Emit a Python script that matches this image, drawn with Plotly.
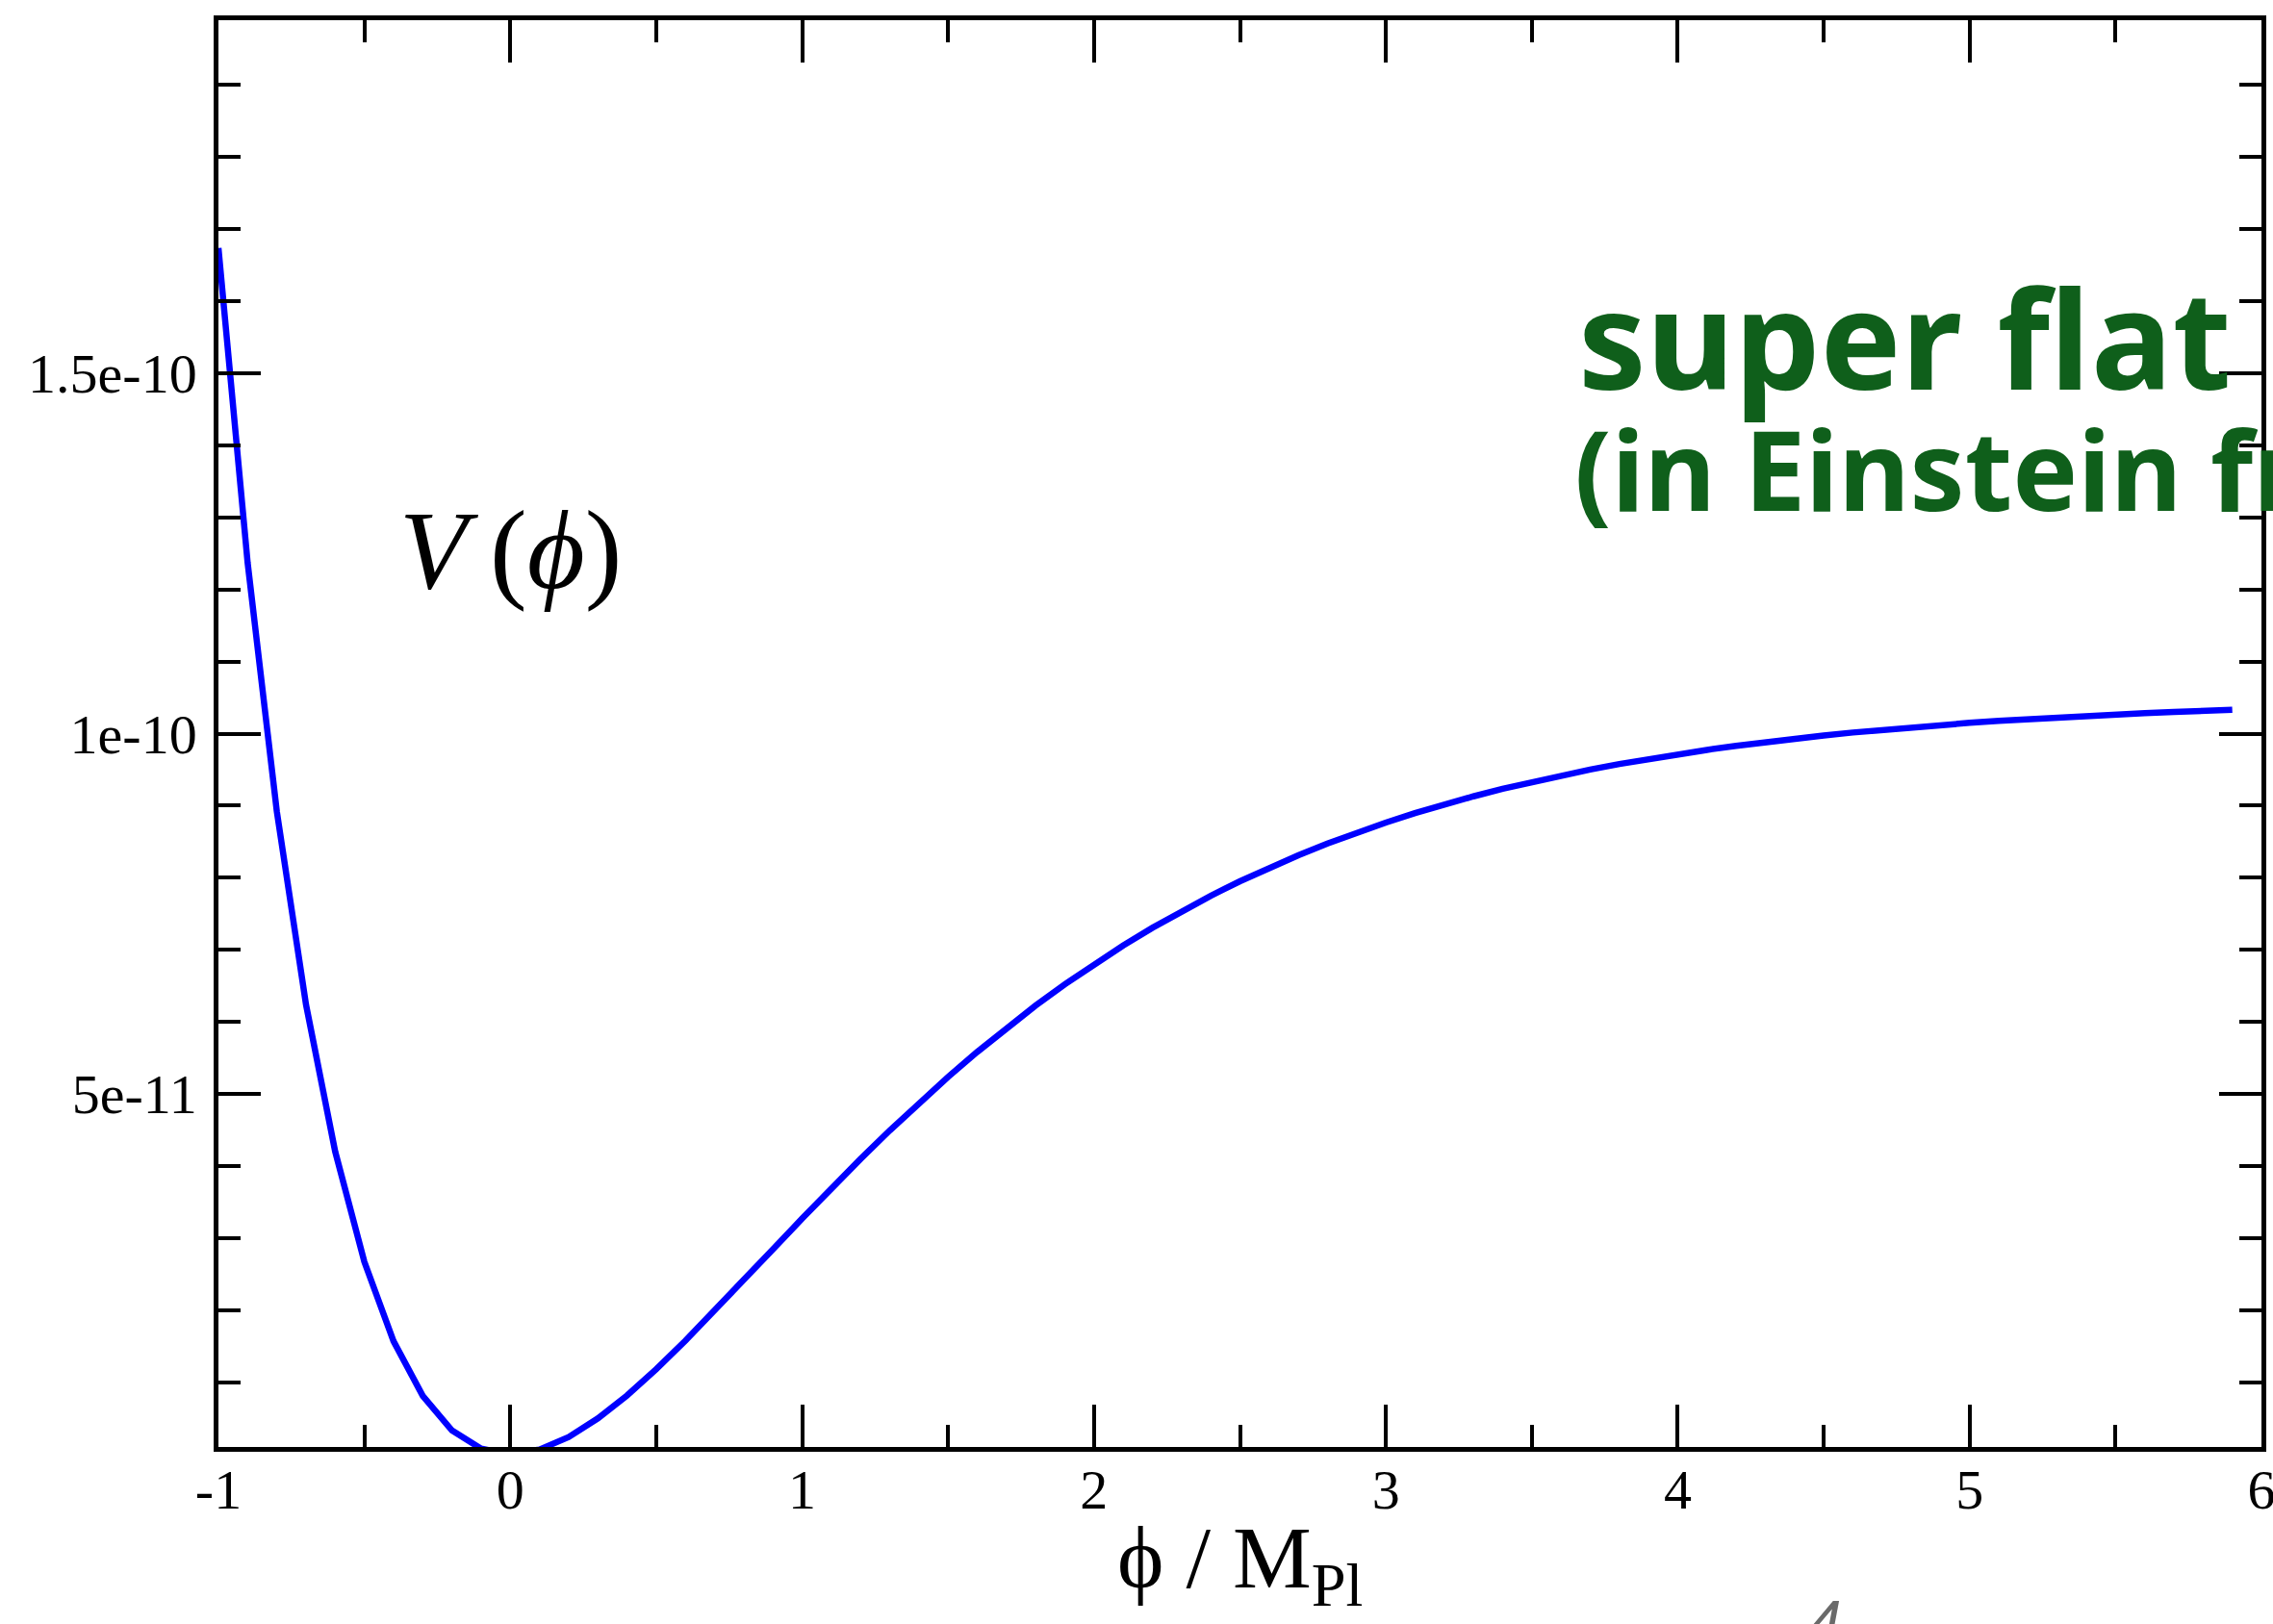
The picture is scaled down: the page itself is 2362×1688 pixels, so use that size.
import plotly.graph_objects as go

# Scalar field values (in units of M_Pl), sampled every 0.1
phi = [-1.0, -0.9, -0.8, -0.7, -0.6, -0.5, -0.4, -0.3, -0.2, -0.1,
       0.0, 0.1, 0.2, 0.3, 0.4, 0.5, 0.6, 0.7, 0.8, 0.9,
       1.0, 1.1, 1.2, 1.3, 1.4, 1.5, 1.6, 1.7, 1.8, 1.9,
       2.0, 2.1, 2.2, 2.3, 2.4, 2.5, 2.6, 2.7, 2.8, 2.9,
       3.0, 3.1, 3.2, 3.3, 3.4, 3.5, 3.6, 3.7, 3.8, 3.9,
       4.0, 4.1, 4.2, 4.3, 4.4, 4.5, 4.6, 4.7, 4.8, 4.9,
       5.0, 5.1, 5.2, 5.3, 5.4, 5.5, 5.6, 5.7, 5.8, 5.9]

# Potential V(phi), in units of 1e-11
V_e11 = [16.74, 12.37, 8.92, 6.24, 4.20, 2.67, 1.567, 0.809, 0.330, 0.076,
         0.0, 0.065, 0.238, 0.496, 0.815, 1.180, 1.575, 1.990, 2.415, 2.844,
         3.270, 3.689, 4.097, 4.492, 4.872, 5.236, 5.583, 5.913, 6.226, 6.521,
         6.799, 7.060, 7.305, 7.535, 7.749, 7.950, 8.137, 8.311, 8.474, 8.625,
         8.765, 8.896, 9.017, 9.129, 9.233, 9.329, 9.419, 9.501, 9.578, 9.648,
         9.714, 9.774, 9.830, 9.882, 9.930, 9.974, 10.015, 10.052, 10.087, 10.119,
         10.149, 10.176, 10.201, 10.225, 10.246, 10.266, 10.284, 10.301, 10.316, 10.331]

x_ticks = [-1, 0, 1, 2, 3, 4, 5, 6]
x_tick_text = ["-1", "0", "1", "2", "3", "4", "5", "6"]
y_ticks = [5e-11, 1e-10, 1.5e-10]
y_tick_text = ["5e-11", "1e-10", "1.5e-10"]

V = [v * 1e-11 for v in V_e11]

W, H = 2362, 1688
L, R, T, B = 227, 12, 21, 184
plot_w = W - L - R
plot_h = H - T - B


def px_to_paper(px, py):
    return (px - L) / plot_w, (H - B - py) / plot_h


serif = "Liberation Serif, Times New Roman, serif"
green = "#0f5f1b"

fig = go.Figure()
fig.add_trace(go.Scatter(
    x=phi, y=V, mode="lines",
    line=dict(color="#0000ff", width=6.5),
    showlegend=False, hoverinfo="skip",
))

axis_common = dict(
    showline=True, linecolor="black", linewidth=4.5, mirror="allticks",
    ticks="inside", tickcolor="black", tickwidth=4, ticklen=44,
    showgrid=False, zeroline=False, automargin=False,
    ticklabeloverflow="allow",
    tickfont=dict(family=serif, size=58, color="black"),
)

fig.update_xaxes(
    range=[-1, 6], tickmode="array", tickvals=x_ticks, ticktext=x_tick_text,
    ticklabelstandoff=-10,
    minor=dict(ticks="inside", ticklen=23, tickwidth=4, tickcolor="black",
               tickmode="linear", tick0=-1, dtick=0.5),
    **axis_common,
)
fig.update_yaxes(
    range=[1e-12, 1.99e-10], tickmode="array", tickvals=y_ticks, ticktext=y_tick_text,
    ticklabelstandoff=6,
    minor=dict(ticks="inside", ticklen=23, tickwidth=4, tickcolor="black",
               tickmode="linear", tick0=0, dtick=1e-11),
    **axis_common,
)

annotations = []

# x-axis title
ax, ay = px_to_paper(1289, 1566)
annotations.append(dict(
    x=ax, y=ay, xref="paper", yref="paper", xanchor="center", yanchor="top",
    text="ϕ / M<sub>Pl</sub>", showarrow=False,
    font=dict(family=serif, size=92, color="black"),
))

# potential label
ax, ay = px_to_paper(530, 572)
annotations.append(dict(
    x=ax, y=ay, xref="paper", yref="paper", xanchor="center", yanchor="middle",
    text="<i>V</i>\u2009(<i>ϕ</i>)", showarrow=False,
    font=dict(family=serif, size=116, color="black"),
))

# green caption
ax, ay = px_to_paper(1638, 350)
annotations.append(dict(
    x=ax, y=ay, xref="paper", yref="paper", xanchor="left", yanchor="middle",
    text="super flat", showarrow=False,
    font=dict(family="Noto Sans, sans-serif", size=141, color=green, weight="bold"),
))
ax, ay = px_to_paper(1634, 486)
annotations.append(dict(
    x=ax, y=ay, xref="paper", yref="paper", xanchor="left", yanchor="middle",
    text="(in Einstein frame)", showarrow=False,
    font=dict(family="Noto Sans, sans-serif", size=114, color=green, weight="bold"),
))

# page number
ax, ay = px_to_paper(1896, 1649)
annotations.append(dict(
    x=ax, y=ay, xref="paper", yref="paper", xanchor="center", yanchor="top",
    text="<i>4</i>", showarrow=False,
    font=dict(family="Liberation Sans, Arial, sans-serif", size=64, color="#6a6a6a"),
))

fig.update_layout(
    width=W, height=H,
    margin=dict(l=L, r=R, t=T, b=B, pad=0, autoexpand=False),
    paper_bgcolor="white", plot_bgcolor="white",
    annotations=annotations,
)

fig.write_html("out.html")
